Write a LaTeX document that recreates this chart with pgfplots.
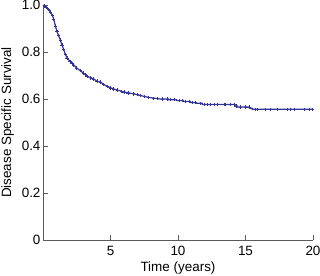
\documentclass[border=0pt]{standalone}
\usepackage{fontspec}
\setmainfont{Liberation Sans}
\usepackage{pgfplots}
\pgfplotsset{compat=1.18}
\definecolor{km}{RGB}{52,52,150}
\definecolor{ax}{RGB}{90,90,90}

\begin{document}
\begin{tikzpicture}
\useasboundingbox (-43bp,-36bp) rectangle (277bp,240bp);
\begin{axis}[
  at={(0,0)}, anchor=origin,
  scale only axis,
  width=270bp, height=235bp,
  xmin=0, xmax=20, ymin=0, ymax=1,
  axis lines*=left,
  axis line style={ax, line width=0.8pt},
  xtick={5,10,15,20},
  ytick={0,0.2,0.4,0.6,0.8,1.0},
  yticklabels={0,0.2,0.4,0.6,0.8,1.0},
  tick align=inside,
  major tick length=5bp,
  tick style={ax, line width=0.8pt},
  ticklabel style={font=\fontsize{13.5}{15}\selectfont},
  xticklabel style={yshift=-3bp},
  yticklabel style={xshift=1bp},
  /pgf/number format/assume math mode=true,
  xlabel={Time (years)},
  ylabel={Disease Specific Survival},
  label style={font=\fontsize{13.5}{15}\selectfont},
  xlabel style={yshift=1.5bp},
  ylabel style={yshift=1bp},
  clip=false,
]
\addplot[km, line width=1.2pt, no marks] coordinates {
(0,1.0) (0.1,0.995) (0.25,0.99) (0.4,0.98) (0.55,0.97) (0.7,0.955) (0.8,0.94)
(0.92,0.91) (1.04,0.886) (1.15,0.87) (1.29,0.851) (1.4,0.83) (1.54,0.81)
(1.65,0.79) (1.79,0.775) (2.0,0.76) (2.28,0.745) (2.5,0.732) (2.77,0.72)
(3.0,0.71) (3.27,0.697) (3.5,0.69) (3.76,0.685) (4.0,0.676) (4.26,0.672)
(4.5,0.662) (4.8,0.652) (5.24,0.643) (5.5,0.638) (6.0,0.63) (6.7,0.622)
(7.2,0.615) (7.8,0.607) (8.7,0.600)
(9.3,0.600) (9.3,0.597) (9.9,0.597) (9.9,0.593) (10.4,0.593) (10.4,0.589)
(10.9,0.589) (10.9,0.585) (11.3,0.585) (11.3,0.582) (11.8,0.582) (11.8,0.577)
(14.2,0.577) (14.2,0.570) (14.4,0.570) (14.4,0.566) (15.3,0.566) (15.3,0.561)
(15.5,0.561) (15.5,0.556) (20,0.556)
};
\addplot[km, only marks, mark=+, mark size=1.7pt, line width=0.7pt] coordinates {
(0.1,0.995) (0.25,0.99) (0.4,0.98) (0.55,0.97) (0.7,0.955) (0.8,0.94)
(0.92,0.91) (1.04,0.886) (1.15,0.87) (1.29,0.851) (1.4,0.83) (1.54,0.81)
(1.65,0.79) (1.79,0.775) (2.0,0.76) (2.15,0.752) (2.28,0.745) (2.5,0.732) (2.77,0.72)
(3.0,0.71) (3.15,0.703) (3.27,0.697) (3.5,0.69) (3.76,0.685) (4.0,0.676) (4.26,0.672)
(4.5,0.662) (4.8,0.652) (5.0,0.647) (5.24,0.643) (5.5,0.638) (5.8,0.633) (6.0,0.63)
(6.3,0.626) (6.7,0.622) (7.0,0.618) (7.2,0.615) (7.5,0.611) (7.8,0.607) (8.2,0.603)
(8.5,0.601) (8.83,0.600) (9.2,0.600) (9.45,0.597) (9.7,0.597) (10.07,0.593)
(10.32,0.593) (10.56,0.589) (10.81,0.589) (11.06,0.585) (11.3,0.585) (11.67,0.582)
(11.92,0.577) (12.17,0.577) (12.42,0.577) (12.66,0.577) (12.91,0.577) (13.4,0.577)
(13.53,0.577) (13.9,0.577) (14.15,0.577) (14.3,0.570) (14.64,0.566) (15.02,0.566)
(15.26,0.566) (15.75,0.556) (15.88,0.556) (16.5,0.556) (16.87,0.556) (17.36,0.556)
(18.1,0.556) (18.35,0.556) (18.6,0.556) (19.34,0.556) (19.71,0.556) (19.96,0.556)
};
\end{axis}
\end{tikzpicture}
\end{document}
